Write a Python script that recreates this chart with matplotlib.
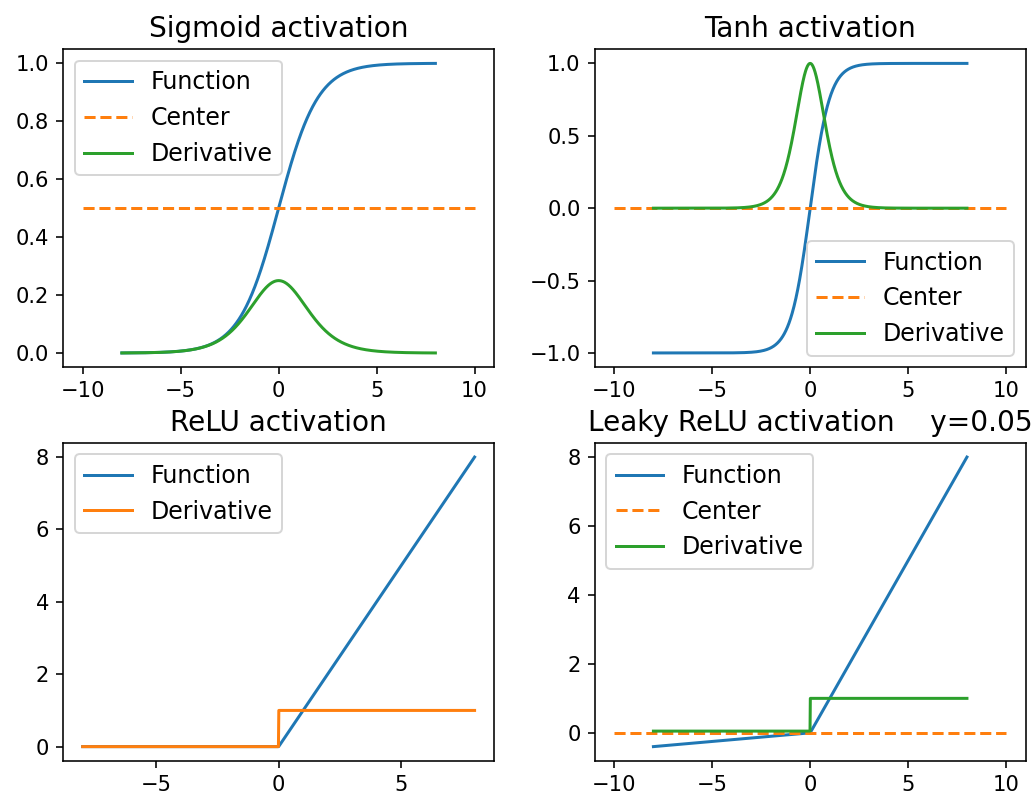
import numpy as np
import matplotlib
matplotlib.use('Agg')
import matplotlib.pyplot as plt

# input range and constants of the activations
x_start, x_end, n_points = -8, 8, 1000
center_span = [-10, 10]
sigmoid_center = 0.5
tanh_center = 0.0
leaky_center = 0.0
leak = 0.05

x = np.linspace(x_start, x_end, n_points)

sig = 1 / (1 + np.exp(-x))
sig_d = sig * (1 - sig)
th = np.tanh(x)
th_d = 1 - th ** 2
relu = np.maximum(0, x)
relu_d = (x > 0).astype(float)
lrelu = np.where(x > 0, x, leak * x)
lrelu_d = np.where(x > 0, 1.0, leak)

plt.rcParams['font.size'] = 10.5
plt.rcParams['legend.fontsize'] = 11.8
plt.rcParams['legend.labelspacing'] = 0.5
plt.rcParams['axes.titlesize'] = 14

fig, axs = plt.subplots(2, 2, figsize=(1034 / 144, 802 / 144), dpi=144)
plt.subplots_adjust(left=0.061, right=0.992, bottom=0.051, top=0.939,
                    wspace=0.233, hspace=0.236)

ax = axs[0, 0]
ax.plot(x, sig, label='Function')
ax.plot(center_span, [sigmoid_center] * 2, '--', label='Center')
ax.plot(x, sig_d, label='Derivative')
ax.set_title('Sigmoid activation')
ax.legend(loc='upper left')

ax = axs[0, 1]
ax.plot(x, th, label='Function')
ax.plot(center_span, [tanh_center] * 2, '--', label='Center')
ax.plot(x, th_d, label='Derivative')
ax.set_title('Tanh activation')
ax.legend(loc='lower right')

ax = axs[1, 0]
ax.plot(x, relu, label='Function')
ax.plot(x, relu_d, label='Derivative')
ax.set_title('ReLU activation')
ax.legend(loc='upper left')

ax = axs[1, 1]
ax.plot(x, lrelu, label='Function')
ax.plot(center_span, [leaky_center] * 2, '--', label='Center')
ax.plot(x, lrelu_d, label='Derivative')
ax.set_title('Leaky ReLU activation    y=' + str(leak))
ax.legend(loc='upper left')

fig.savefig('out.png', dpi=144)
